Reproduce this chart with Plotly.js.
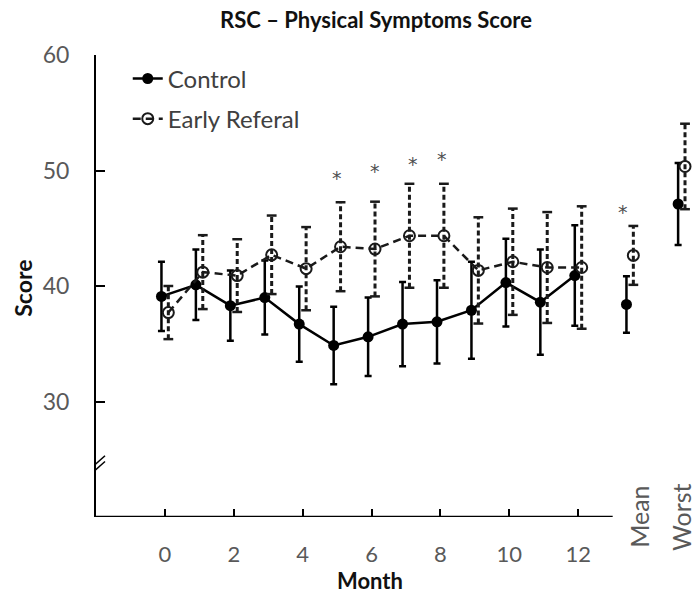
<!DOCTYPE html>
<html>
<head>
<meta charset="utf-8">
<script src="https://cdn.plot.ly/plotly-3.0.1.min.js"></script>
<style>html,body{margin:0;padding:0;background:#fff;}#chart{width:695px;height:596px;}</style>
</head>
<body>
<div id="chart"></div>
<script>
// ---- data ----
var monthPos = [0,1,2,3,4,5,6,7,8,9,10,11,12];
var summaryLabels = ['Mean','Worst'];
var summaryPos = [13.5, 15];
var tickVals = [0,2,4,6,8,10,12];
var tickText = ['0','2','4','6','8','10','12'];

var controlMonthly = [39.1,40.1,38.3,39.0,36.7,34.85,35.6,36.7,36.9,37.9,40.3,38.6,40.9];
var controlMonthlyErr = [3.0,3.05,3.05,3.2,3.25,3.35,3.4,3.65,3.6,4.2,3.8,4.55,4.35];
var controlSummary = [38.4, 47.1];
var controlSummaryErr = [2.45, 3.55];

var earlyMonthly = [37.7,41.2,40.9,42.7,41.5,43.4,43.2,44.35,44.35,41.35,42.1,41.6,41.6];
var earlyMonthlyErr = [2.3,3.2,3.15,3.4,3.6,3.85,4.1,4.5,4.5,4.6,4.6,4.8,5.3];
var earlySummary = [42.65, 50.35];
var earlySummaryErr = [2.55, 3.7];

var sigX = [5, 6.1, 7.2, 8.05, 13.3];
var sigY = [49.8, 50.4, 51.0, 51.4, 46.8];

// ---- build ----
var off = 0.1;
function shift(a, d){ return a.map(function(v){ return v + d; }); }

var ctrlMx = shift(monthPos, -off), ctrlSx = shift(summaryPos, -off);
var erMx = shift(monthPos, off), erSx = shift(summaryPos, off);

var black = '#000000';
var erCol = '#1a1a1a';

// dashed error bars for Early Referal
function dashedBars(xs, ys, es){
  var bx = [], by = [], cx = [], cy = [];
  for (var i=0;i<xs.length;i++){
    bx.push(xs[i], xs[i], null);
    by.push(ys[i]-es[i], ys[i]+es[i], null);
    cx.push(xs[i], xs[i]);
    cy.push(ys[i]-es[i], ys[i]+es[i]);
  }
  return {bx:bx, by:by, cx:cx, cy:cy};
}
var erAllX = erMx.concat(erSx), erAllY = earlyMonthly.concat(earlySummary), erAllE = earlyMonthlyErr.concat(earlySummaryErr);
var db = dashedBars(erAllX, erAllY, erAllE);

var traces = [
  {x: ctrlMx, y: controlMonthly, name:'Control', mode:'lines+markers',
   line:{color:black, width:2.5},
   marker:{symbol:'circle', size:11, color:black},
   error_y:{type:'data', array:controlMonthlyErr, visible:true, color:black, thickness:2.5, width:3.5},
   legendgroup:'a', cliponaxis:false},
  {x: ctrlSx, y: controlSummary, mode:'markers', showlegend:false, legendgroup:'a',
   marker:{symbol:'circle', size:11, color:black},
   error_y:{type:'data', array:controlSummaryErr, visible:true, color:black, thickness:2.5, width:3.5}, cliponaxis:false},
  {x: db.bx, y: db.by, mode:'lines', line:{color:erCol, width:3, dash:'5px,3px'}, showlegend:false, legendgroup:'b', hoverinfo:'skip', cliponaxis:false},
  {x: db.cx, y: db.cy, mode:'markers', marker:{symbol:'line-ew', size:7, line:{color:erCol, width:2.5}}, showlegend:false, legendgroup:'b', hoverinfo:'skip', cliponaxis:false},
  {x: erMx, y: earlyMonthly, name:'Early Referal', mode:'lines+markers',
   line:{color:erCol, width:2.5, dash:'8px,5px'},
   marker:{symbol:'circle-open', size:11, color:erCol, line:{width:2, color:erCol}},
   legendgroup:'b', cliponaxis:false},
  {x: erSx, y: earlySummary, mode:'markers', showlegend:false, legendgroup:'b',
   marker:{symbol:'circle-open', size:11, color:erCol, line:{width:2, color:erCol}}, cliponaxis:false}
];

var fontFam = 'Lato, "Open Sans", sans-serif';
var annotations = [
  {text:'<b>Month</b>', xref:'paper', yref:'paper', x:0.457, y:-0.1385, showarrow:false, borderpad:0, xanchor:'center', yanchor:'middle', font:{family:fontFam, size:22, color:'#111'}},
  {text:'<b>Score</b>', xref:'paper', yref:'paper', x:-0.122, y:0.496, showarrow:false, xanchor:'center', yanchor:'middle', textangle:-90, font:{family:fontFam, size:23, color:'#111'}}
];
summaryLabels.forEach(function(lbl, i){
  annotations.push({text:lbl, xref:'x', yref:'paper', x:[13.76, 14.98][i], y:0.0, showarrow:false, xanchor:'center', yanchor:'middle', textangle:-90, font:{family:fontFam, size:25, color:'#595959'}});
});
// significance asterisks
sigX.forEach(function(sx, i){
  annotations.push({text:'*', xref:'x', yref:'y', x:sx, y:sigY[i], yshift:-5, showarrow:false, xanchor:'center', yanchor:'middle', font:{family:'DejaVu Sans, sans-serif', size:19, color:'#505050'}});
});

var layout = {
  width:695, height:596,
  margin:{l:96, r:0, t:55, b:79},
  paper_bgcolor:'#fff', plot_bgcolor:'#fff',
  font:{family:fontFam, color:'#595959'},
  title:{text:'<b>RSC – Physical Symptoms Score</b>', xref:'container', yref:'container', x:0.541, y:0.966, xanchor:'center', yanchor:'middle', font:{family:fontFam, size:22, color:'#111'}},
  xaxis:{range:[-2, 15.39], showline:false, zeroline:false, showgrid:false,
    tickmode:'array', tickvals:tickVals, ticktext:tickText, ticks:'inside', ticklen:8, tickwidth:2, tickcolor:black,
    ticklabelstandoff:22, tickfont:{family:fontFam, size:22, color:'#595959'}},
  yaxis:{range:[20, 60], showline:true, linecolor:black, linewidth:2, zeroline:false, showgrid:false,
    tickmode:'array', tickvals:[30,40,50,60], ticks:'inside', ticklen:9, tickwidth:2, tickcolor:black,
    ticklabelstandoff:20, tickfont:{family:fontFam, size:23, color:'#595959'}},
  showlegend:true,
  legend:{x:0.053, y:0.997, xanchor:'left', yanchor:'top', bgcolor:'rgba(0,0,0,0)', traceorder:'grouped', tracegroupgap:6,
    font:{family:fontFam, size:24, color:'#404040'}},
  shapes:[
    {type:'line', xref:'x', yref:'y', x0:-2, x1:13, y0:20, y1:20, line:{color:black, width:2.5}},
    {type:'line', xref:'x', yref:'y', xsizemode:'pixel', ysizemode:'pixel', xanchor:-2, yanchor:24.7, x0:-9, x1:9, y0:-9, y1:7, line:{color:black, width:1.5}},
    {type:'line', xref:'x', yref:'y', xsizemode:'pixel', ysizemode:'pixel', xanchor:-2, yanchor:24.2, x0:-9, x1:9, y0:-9, y1:7, line:{color:black, width:1.5}}
  ],
  annotations:annotations
};

Plotly.newPlot('chart', traces, layout, {displayModeBar:false, staticPlot:true});
</script>
</body>
</html>
